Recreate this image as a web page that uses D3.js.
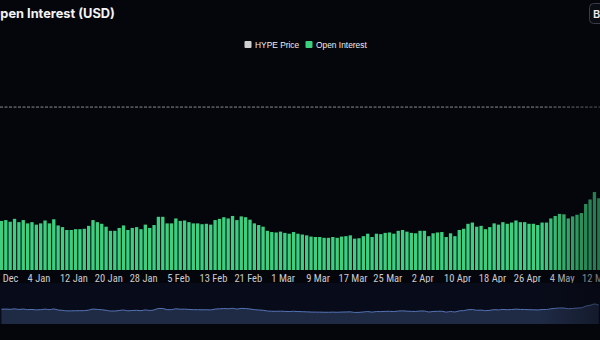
<!DOCTYPE html>
<html>
<head>
<meta charset="utf-8">
<script src="https://cdn.jsdelivr.net/npm/d3@7"></script>
<style>
  html, body { margin: 0; padding: 0; background: #05060b; overflow: hidden; }
  svg { display: block; }
</style>
</head>
<body>
<svg id="chart" width="600" height="340"></svg>
<script>
// Daily open interest (USD, billions), one value per day from the first date on
const firstDay = "2024-12-26";
const openInterest = [
  1.19, 1.21, 1.17, 1.24, 1.16, 1.21, 1.13, 1.16, 1.10, 1.13, 1.20, 1.13, 1.23, 1.08, 1.04, 0.97,
  0.97, 0.99, 0.99, 1.00, 1.07, 1.21, 1.16, 1.12, 1.05, 0.95, 0.95, 1.02, 1.08, 0.97, 1.02, 1.04,
  0.99, 1.10, 1.02, 1.09, 1.29, 1.29, 1.13, 1.13, 1.25, 1.19, 1.20, 1.16, 1.13, 1.13,
  1.11, 1.12, 1.10, 1.21, 1.24, 1.28, 1.25, 1.31, 1.21, 1.30, 1.28, 1.22, 1.13, 1.09, 1.05, 0.95,
  0.92, 0.91, 0.93, 0.90, 0.88, 0.92, 0.88, 0.86, 0.84, 0.81, 0.80, 0.80, 0.78, 0.78, 0.80, 0.78,
  0.81, 0.82, 0.84, 0.76, 0.77, 0.82, 0.88, 0.80, 0.88, 0.87, 0.90, 0.91, 0.88, 0.95,
  0.97, 0.93, 0.90, 0.89, 0.95, 0.95, 0.82, 0.89, 0.91, 0.92, 0.80, 0.89, 0.82, 0.97, 1.00, 1.12,
  1.15, 1.05, 1.07, 0.99, 1.04, 1.13, 1.10, 1.16, 1.12, 1.15, 1.20, 1.16, 1.16, 1.12, 1.12, 1.09,
  1.15, 1.15, 1.25, 1.31, 1.36, 1.35, 1.25, 1.30, 1.34, 1.38, 1.60, 1.71, 1.89, 1.74
];
// Reference level drawn as a dashed rule
const referenceLevel = 3.95;
// X-axis ticks every 8 days
const tickDates = ["2024-12-27", "2025-01-04", "2025-01-12", "2025-01-20", "2025-01-28", "2025-02-05",
  "2025-02-13", "2025-02-21", "2025-03-01", "2025-03-09", "2025-03-17", "2025-03-25", "2025-04-02",
  "2025-04-10", "2025-04-18", "2025-04-26", "2025-05-04", "2025-05-12"];
const legendItems = ["HYPE Price", "Open Interest"];

const W = 600, H = 340;
const svg = d3.select("#chart");
const parse = d3.utcParse("%Y-%m-%d");
const day0 = parse(firstDay);
const data = openInterest.map((v, i) => ({ date: d3.utcHour.offset(d3.utcDay.offset(day0, i), 12), value: v }));
const lastDate = data[data.length - 1].date;

const x = d3.scaleUtc()
  .domain([d3.utcHour.offset(data[0].date, -8), d3.utcMinute.offset(lastDate, 396)])
  .range([0, W]);
const y = d3.scaleLinear().domain([0, 4]).range([270, 105]);

const pxPerDay = x(d3.utcDay.offset(day0, 1)) - x(day0);
const barW = pxPerDay * 0.76;

const green = "#3ccf80";
const defs = svg.append("defs");
const fade = defs.append("linearGradient").attr("id", "edgeFade").attr("x1", 0).attr("x2", 1).attr("y1", 0).attr("y2", 0);
fade.append("stop").attr("offset", "0%").attr("stop-color", "#05060b").attr("stop-opacity", 0);
fade.append("stop").attr("offset", "100%").attr("stop-color", "#05060b").attr("stop-opacity", 0.45);

// Title
svg.append("text")
  .attr("x", -9.5).attr("y", 18)
  .attr("fill", "#f2f3f5")
  .attr("font-family", "Inter, 'Noto Sans', sans-serif")
  .attr("font-weight", 700).attr("font-size", 12.8)
  .text("Open Interest (USD)");

// Top-right control
svg.append("rect").attr("x", 589.5).attr("y", 3.5).attr("width", 40).attr("height", 20).attr("rx", 4)
  .attr("fill", "#0b0d14").attr("stroke", "#3a3d47");
svg.append("text").attr("x", 593).attr("y", 17.5).attr("fill", "#e8e9ec")
  .attr("font-family", "Inter, sans-serif").attr("font-weight", 600).attr("font-size", 11).text("Bar");

// Legend
const legendColors = ["#cfcfd2", green];
const legendX = [244.5, 305.5];
legendItems.forEach((name, i) => {
  const g = svg.append("g").attr("transform", `translate(${legendX[i]},41)`);
  g.append("rect").attr("width", 7).attr("height", 7).attr("rx", 1).attr("fill", legendColors[i]);
  g.append("text").attr("x", 10.5).attr("y", 6.8).attr("fill", "#eceef2")
    .attr("font-family", "'Liberation Sans', Arial, sans-serif").attr("font-weight", 400).attr("font-size", 8.4)
    .text(name);
});

// Dashed reference rule
svg.append("line")
  .attr("x1", 0).attr("x2", W).attr("y1", y(referenceLevel)).attr("y2", y(referenceLevel))
  .attr("stroke", "#8a8c92").attr("stroke-width", 1).attr("stroke-dasharray", "3,1.5");

// Bars
svg.append("g").selectAll("rect").data(data).join("rect")
  .attr("x", d => x(d.date) - barW / 2)
  .attr("y", d => y(d.value))
  .attr("width", barW)
  .attr("height", d => y(0) - y(d.value))
  .attr("fill", green);

// X axis
const xAxis = d3.axisBottom(x)
  .tickValues(tickDates.map(parse))
  .tickFormat(d3.utcFormat("%-d %b"))
  .tickSize(0).tickPadding(0);
const gx = svg.append("g").attr("transform", "translate(0,275)").call(xAxis);
gx.select(".domain").remove();
gx.selectAll("text")
  .attr("fill", "#c9cbd1")
  .attr("font-family", "'Roboto Condensed', Roboto, 'Noto Sans', sans-serif")
  .attr("font-size", 10.5)
  .attr("dy", "0.71em");

// Overview strip
svg.append("rect").attr("x", 0).attr("y", 283).attr("width", W).attr("height", 41).attr("fill", "#080c1a");
const yMini = d3.scaleLinear().domain([0, 1.89]).range([318.1, 304]);
const xMini = x;
svg.append("path").datum(data)
  .attr("d", d3.area().x(d => xMini(d.date)).y0(324).y1(d => yMini(d.value)).curve(d3.curveMonotoneX))
  .attr("fill", "#1f2a45");
svg.append("path").datum(data)
  .attr("d", d3.line().x(d => xMini(d.date)).y(d => yMini(d.value)).curve(d3.curveMonotoneX))
  .attr("fill", "none").attr("stroke", "#5574b5").attr("stroke-width", 1);

// Right-edge fade
svg.append("rect").attr("x", 540).attr("y", 30).attr("width", 60).attr("height", 294).attr("fill", "url(#edgeFade)");
</script>
</body>
</html>
